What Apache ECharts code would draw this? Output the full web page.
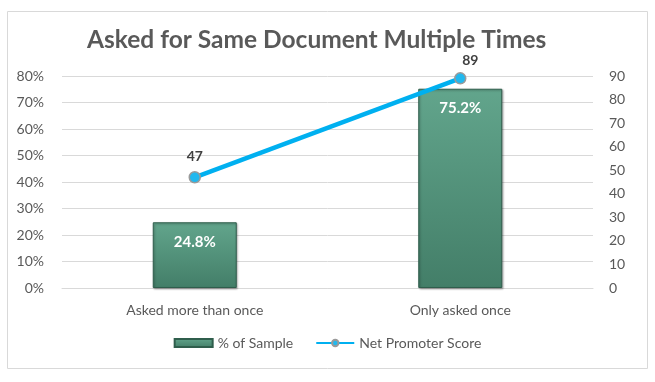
<!DOCTYPE html>
<html><head><meta charset="utf-8">
<script src="https://cdn.jsdelivr.net/npm/echarts@6/dist/echarts.min.js"></script>
<style>html,body{margin:0;padding:0;background:#fff}#c{width:655px;height:382px}</style>
</head><body><div id="c"></div>
<script>
var categories = ['Asked more than once', 'Only asked once'];
var pctSample = [0.248, 0.752];
var nps = [47, 89];
var leftTicks = [0, 0.1, 0.2, 0.3, 0.4, 0.5, 0.6, 0.7, 0.8];
var rightTicks = [0, 10, 20, 30, 40, 50, 60, 70, 80, 90];

var FONT = 'Lato, "Open Sans", sans-serif';
var chart = echarts.init(document.getElementById('c'));
chart.setOption({
  animation: false,
  textStyle: {fontFamily: FONT},
  title: {
    text: 'Asked for Same Document Multiple Times',
    left: 82, top: 23,
    textStyle: {fontSize: 24.5, fontWeight: 'bold', color: '#595959', fontFamily: FONT}
  },
  graphic: [{
    type: 'rect', shape: {x: 7.5, y: 11.5, width: 640, height: 357},
    style: {fill: 'none', stroke: '#d9d9d9', lineWidth: 1}, z: -1
  }],
  legend: {
    bottom: 27, left: 'center', itemGap: 22, itemWidth: 38, itemHeight: 8,
    textStyle: {fontSize: 14, color: '#595959', fontFamily: FONT},
    data: [
      {name: '% of Sample', icon: 'rect'},
      {name: 'Net Promoter Score'}
    ]
  },
  grid: {left: 62, right: 62, top: 76, bottom: 94},
  xAxis: {
    type: 'category', data: categories,
    axisLine: {lineStyle: {color: '#d9d9d9'}}, axisTick: {show: false},
    axisLabel: {fontSize: 14, color: '#595959', margin: 15, fontFamily: FONT}
  },
  yAxis: [{
    type: 'value', min: 0, max: 0.8, interval: 0.1,
    axisLabel: {fontSize: 14, color: '#595959', margin: 18, fontFamily: FONT,
      formatter: function (v) { return Math.round(v * 100) + '%'; }},
    splitLine: {lineStyle: {color: '#d9d9d9'}},
    axisLine: {show: false}, axisTick: {show: false}
  }, {
    type: 'value', min: 0, max: 90, interval: 10,
    axisLabel: {fontSize: 14, color: '#595959', margin: 16, fontFamily: FONT},
    splitLine: {show: false}, axisLine: {show: false}, axisTick: {show: false}
  }],
  series: [{
    name: '% of Sample', type: 'bar', yAxisIndex: 0, barWidth: 84,
    data: pctSample,
    itemStyle: {
      color: new echarts.graphic.LinearGradient(0, 0, 0, 1, [
        {offset: 0, color: '#62a58c'}, {offset: 1, color: '#437e68'}
      ]),
      borderColor: '#2f5e4c', borderWidth: 1,
      shadowColor: 'rgba(0,0,0,0.3)', shadowBlur: 2, shadowOffsetX: 1, shadowOffsetY: 1
    },
    label: {show: true, position: 'insideTop', distance: 12, color: '#fff', fontWeight: 'bold',
      fontSize: 15, fontFamily: FONT,
      formatter: function (p) { return (p.value * 100).toFixed(1) + '%'; }}
  }, {
    name: 'Net Promoter Score', type: 'line', yAxisIndex: 1,
    data: nps.map(function (v, i) {
      return i === 1 ? {value: v, label: {offset: [10, 3]}} : v;
    }),
    lineStyle: {color: '#00b0f0', width: 4.5},
    itemStyle: {color: '#22b8ee', borderColor: '#9a9a9a', borderWidth: 1.5},
    symbol: 'circle', symbolSize: 11,
    label: {show: true, position: 'top', distance: 8, color: '#404040', fontWeight: 'bold',
      fontSize: 14, fontFamily: FONT},
    z: 5
  }]
});
</script></body></html>
